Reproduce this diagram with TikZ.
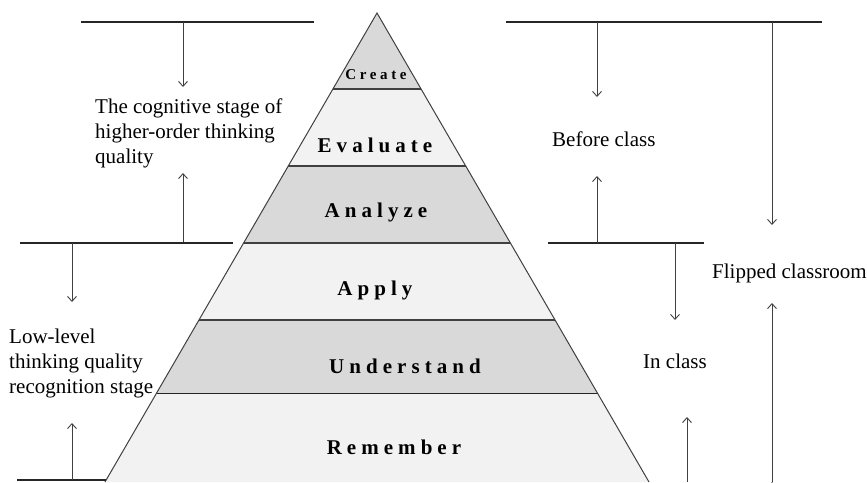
\documentclass[tikz,border=0pt]{standalone}
\usepackage{fontspec}
\setmainfont{Liberation Serif}
\newfontfamily\tierfont[LetterSpace=24]{Liberation Serif}
\usepackage{tikz}
\usetikzlibrary{arrows.meta}

\begin{document}
\begin{tikzpicture}[x=1pt,y=-1pt,>={Straight Barb[length=5pt,width=9pt]},
	every node/.style={inner sep=0pt},
	tier/.style={font=\tierfont\bfseries\fontsize{#1}{#1}\selectfont}, tier/.default=21,
	stage/.style={anchor=west,align=left,font=\fontsize{21}{25}\selectfont},
	rule/.style={draw=black!85,line width=1.1pt},
	flow/.style={->,draw=black!75,line width=0.9pt}]

\useasboundingbox (0,0) rectangle (867,482);

% pyramid: light body, darker bands, separators
\fill[black!5] (105,482) -- (377,13) -- (649,482) -- cycle;
\begin{scope}
\clip (105,482) -- (377,13) -- (649,482) -- cycle;
\foreach \top/\bot in {0/89, 166/243, 320/393}
	\fill[black!15] (0,\top) rectangle (867,\bot);
\foreach \y in {89,166,243,320}
	\draw[black!75,line width=2pt] (0,\y) -- (867,\y);
\draw[black!85,line width=1pt] (0,393) -- (867,393);
\end{scope}
\draw[black!75,line width=1pt] (105,482) -- (377,13) -- (649,482);

\foreach \name/\text/\x/\y/\size in {create/Create/376/75/15, evaluate/Evaluate/375/145/21, analyze/Analyze/376/212/21, apply/Apply/375/290/21, understand/Understand/405/366/21, remember/Remember/394/447/21}
\node[tier=\size](\name) at (\x,\y) {\text};

% stages beside the pyramid
\node[stage](higher) at (95,133) {The cognitive stage of\\higher-order thinking\\quality};
\node[stage](lower) at (9,363) {Low-level\\thinking quality\\recognition stage};
\node[stage](before) at (552,139) {Before class};
\node[stage](inclass) at (643,361) {In class};
\node[stage](flipped) at (712,273) {Flipped classroom};

% brackets
\draw[rule] (81,22) -- (314,22);
\draw[rule] (20,243) -- (233,243);
\draw[rule] (17,480) -- (106,480);
\draw[rule] (506,22) -- (822,22);
\draw[rule] (548,243) -- (704,243);

\foreach \name/\x/\y in {h1/183/22, h2/183/87, h3/183/242, h4/183/173, l1/72/243, l2/72/302, l3/72/480, l4/72/423, b1/597/22, b2/597/97, b3/597/243, b4/597/176, f1/772/22, f2/772/225, c1/675/243, c2/675/320, c3/687/482, c4/687/417, f3/772/482, f4/772/303}
\coordinate (\name) at (\x,\y);

\path[flow]
	(h1) edge (h2)
	(h3) edge (h4)
	(l1) edge (l2)
	(l3) edge (l4)
	(b1) edge (b2)
	(b3) edge (b4)
	(f1) edge (f2)
	(c1) edge (c2)
	(c3) edge (c4)
	(f3) edge (f4)
	;

\end{tikzpicture}
\end{document}
